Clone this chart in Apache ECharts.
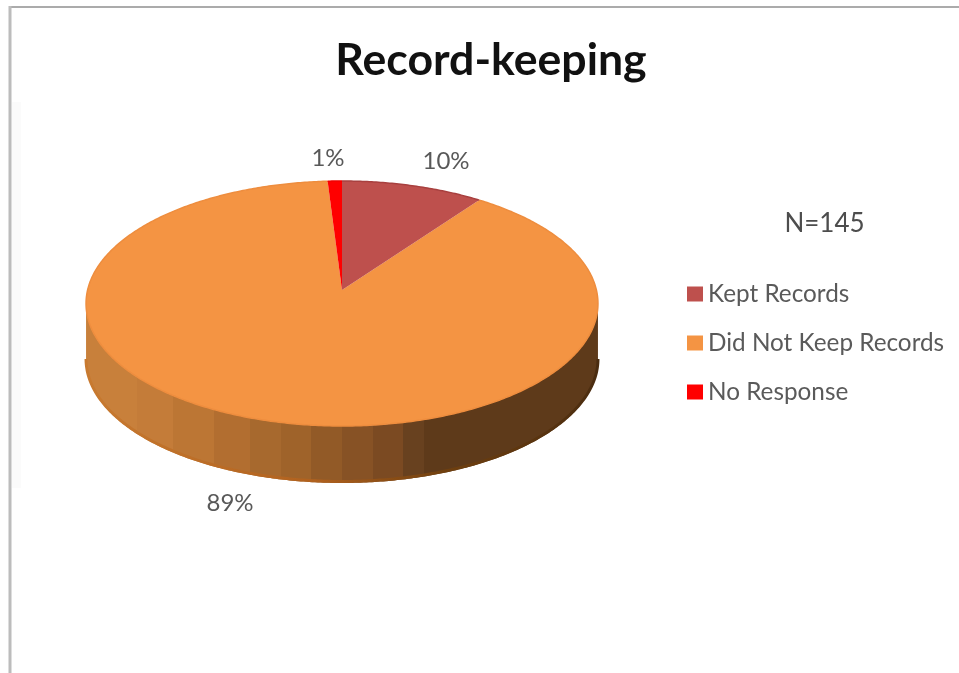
<!DOCTYPE html>
<html>
<head>
<meta charset="utf-8">
<style>html,body{margin:0;padding:0;background:#fff}#c{width:959px;height:673px;filter:blur(0.5px)}</style>
<script src="https://cdn.jsdelivr.net/npm/echarts@6/dist/echarts.min.js"></script>
</head>
<body>
<div id="c"></div>
<script>
const titleText = 'Record-keeping';
const sampleNote = 'N=145';
const categories = ['Kept Records', 'Did Not Keep Records', 'No Response'];
const values = [10, 89, 1];
const sliceColors = ['#BE504D', '#F49443', '#FF0000'];
const sliceEdges = ['#A8403F', '#EE8D3E', '#F00000'];
const labelSpots = [[446, 161], [230, 503], [328, 158]];

// Tilted-disc projection of the pie: centre, radii, perspective, thickness
const disc = {cx: 342, cy: 290, a: 254.4, b: 121, k: 0.1102, depth: 57};
const total = values.reduce((s, v) => s + v, 0);

function project(theta, drop) {
  const u = Math.sin(theta), v = Math.cos(theta), w = 1 + disc.k * v;
  return [disc.cx + disc.a * u / w, disc.cy - disc.b * v / w + (drop || 0)];
}
function arc(t0, t1, drop) {
  const n = Math.max(2, Math.ceil(Math.abs(t1 - t0) / 0.01)), pts = [];
  for (let i = 0; i <= n; i++) pts.push(project(t0 + (t1 - t0) * i / n, drop));
  return pts;
}
const frontFrom = Math.acos(-disc.k), frontTo = 2 * Math.PI - frontFrom;

// Faceted shading of the rim: [band end as a share of the width, colour]
const sideBands = [
  [0.1, '#C8803B'], [0.17, '#C47C39'], [0.25, '#BC7634'], [0.32, '#B26E30'],
  [0.38, '#A7692E'], [0.44, '#9F632A'], [0.5, '#925A27'], [0.56, '#875225'],
  [0.62, '#7B4A22'], [0.66, '#68411F'], [1, '#5E3A1A']
];
function bandStops() {
  const stops = [];
  let from = 0;
  sideBands.forEach(([to, color]) => {
    stops.push({offset: from, color}, {offset: to, color});
    from = to;
  });
  return stops;
}
const sideGradient = {type: 'linear', x: 86, y: 0, x2: 598, y2: 0, global: true, colorStops: bandStops()};
const rimGradient = {
  type: 'linear', x: 86, y: 0, x2: 598, y2: 0, global: true,
  colorStops: [
    {offset: 0, color: '#C87A30'}, {offset: 0.45, color: '#B0611E'},
    {offset: 0.7, color: '#70400F'}, {offset: 1, color: '#4A2C10'}
  ]
};

function renderSlice(idx) {
  return function () {
    const before = values.slice(0, idx).reduce((s, v) => s + v, 0);
    const t0 = before / total * 2 * Math.PI;
    const t1 = (before + values[idx]) / total * 2 * Math.PI;
    const children = [];
    const f0 = Math.max(t0, frontFrom), f1 = Math.min(t1, frontTo);
    if (f1 > f0) {
      const lower = arc(f0, f1, disc.depth);
      children.push({
        type: 'polygon',
        shape: {points: arc(f0, f1, 0).concat(lower.slice().reverse())},
        style: {fill: sideGradient}
      });
      children.push({
        type: 'polyline', shape: {points: arc(f0, f1, disc.depth - 1.5)},
        style: {fill: null, stroke: rimGradient, lineWidth: 3}
      });
    }
    children.push({
      type: 'polygon',
      shape: {points: [[disc.cx, disc.cy]].concat(arc(t0, t1, 0))},
      style: {fill: sliceColors[idx]}
    });
    children.push({
      type: 'polyline', shape: {points: arc(t0, t1, 0)},
      style: {fill: null, stroke: sliceEdges[idx], lineWidth: 1.5}
    });
    children.push({
      type: 'text', x: labelSpots[idx][0], y: labelSpots[idx][1],
      style: {
        text: values[idx] + '%', fill: '#595959',
        font: '24px Lato', textAlign: 'center', textVerticalAlign: 'middle'
      }
    });
    return {type: 'group', children};
  };
}

const chart = echarts.init(document.getElementById('c'), null, {renderer: 'canvas'});
chart.setOption({
  animation: false,
  backgroundColor: '#fff',
  title: [
    {text: titleText, left: 486, top: 33, textAlign: 'center',
     textStyle: {fontFamily: 'Lato', fontWeight: 'bold', fontSize: 44.6, color: '#111'}},
    {text: sampleNote, left: 819.5, top: 206, textAlign: 'center',
     textStyle: {fontFamily: 'Lato', fontWeight: 'normal', fontSize: 26, color: '#4d4d4d'}}
  ],
  legend: {
    orient: 'vertical', left: 682, top: 277, itemGap: 25,
    itemWidth: 16, itemHeight: 15, icon: 'rect', data: categories,
    selectedMode: false,
    textStyle: {fontFamily: 'Lato', fontSize: 24.3, color: '#5a5a5a', padding: 0, height: 23, lineHeight: 23}
  },
  graphic: [
    {type: 'rect', shape: {x: 12, y: 102, width: 9, height: 386}, style: {fill: '#fbfbfb'}, silent: true},
    {type: 'line', shape: {x1: 10, y1: 7, x2: 959, y2: 7}, style: {stroke: '#ababab', lineWidth: 2}, silent: true},
    {type: 'line', shape: {x1: 10, y1: 6, x2: 10, y2: 673}, style: {stroke: '#bcbcbc', lineWidth: 3}, silent: true}
  ],
  series: categories.map((name, i) => ({
    type: 'custom', name, coordinateSystem: 'none',
    z: i === 1 ? 2 : 3,
    itemStyle: {color: sliceColors[i]},
    data: [{name, value: values[i]}],
    renderItem: renderSlice(i)
  }))
});
</script>
</body>
</html>
